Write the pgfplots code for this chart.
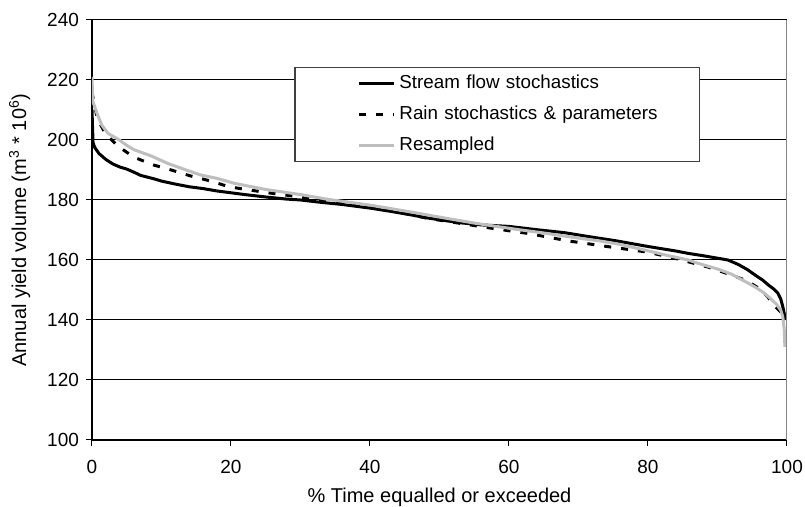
\documentclass[border=0pt]{standalone}
\usepackage{pgfplots}
\pgfplotsset{compat=1.18}
\usepackage{fontspec}
\setmainfont{Liberation Sans}
\definecolor{resgray}{RGB}{190,190,190}
\begin{document}
\begin{tikzpicture}
\begin{axis}[
  scale only axis,
  width=347.5pt, height=210pt,
  xmin=0, xmax=100, ymin=100, ymax=240,
  xtick={0,20,...,100}, ytick={100,120,...,240},
  axis x line*=bottom, axis y line*=left,
  axis line style={black, line width=0.6pt},
  tick align=outside, major tick length=3pt,
  tick style={black, line width=0.5pt},
  ymajorgrids, grid style={black, line width=0.5pt},
  /pgf/number format/assume math mode=true,
  ticklabel style={font=\fontsize{9.5}{11}\selectfont},
  xticklabel style={yshift=-3.7pt, inner xsep=0pt},
  label style={font=\fontsize{9.5}{11}\selectfont},
  xlabel={\% Time equalled or exceeded},
  ylabel={Annual yield volume (m\textsuperscript{3} * 10\textsuperscript{6})},
  every axis x label/.style={at={(axis description cs:0.5,-0.15)}, anchor=base},
  every axis y label/.style={at={(axis description cs:-0.104,0.5)}, rotate=90, anchor=center},
  legend cell align=left,
  legend image code/.code={\path[draw=none,fill=none] (-32pt,0pt) -- (0pt,0pt); \draw[#1] (0pt,0pt) -- (17.5pt,0pt);},
  legend style={at={(0.291,0.889)}, anchor=north west, draw=black!75, line width=0.7pt,
    inner xsep=0pt, inner ysep=3.5pt, row sep=6.5pt,
    font=\fontsize{9.4}{11}\selectfont,
    nodes={inner xsep=2pt, inner ysep=0pt, text height=7pt, text depth=2pt, text width=148pt, anchor=west}},
]
\addplot[black, line width=1.5pt, line join=round] coordinates {
(0,210) (0.15,199) (0.4,197.5) (1,195.5) (2,193.5) (3,192) (4,191) (5,190.3) (6,189.3) (7,188.2) (8,187.6) (9,187) (10,186.3) (12,185.3) (14,184.4) (16,183.8) (18,183) (20,182.4) (22,181.8) (25,181) (28,180.3) (30,180) (33,179.2) (36,178.5) (40,177.3) (43,176.2) (46,175) (48,174.1) (50,173.4) (53,172.4) (56,171.7) (60,171.2) (64,170.1) (68,169.1) (72,167.6) (75.4,166.4) (80,164.5) (84,163) (85.8,162.2) (88,161.4) (90,160.6) (91.5,160) (93,158.5) (94.3,156.8) (95.4,155) (96.5,153.3) (97.3,151.7) (98.1,150.3) (98.7,148.9) (99.1,147) (99.4,144.4) (99.8,140)
};
\addlegendentry{Stream flow stochastics}
\addplot[black, line width=1.5pt, dash pattern=on 3.5pt off 5pt] coordinates {
(0,216) (0.3,212) (0.8,207) (1.9,202.2) (3.8,197.8) (6.1,194.2) (8.8,191.7) (11.4,190) (14.2,188) (17.1,186.3) (19.7,184.4) (25,182.5) (30,181) (35,179.3) (40,177.8) (44,176) (48.3,173.9) (54.4,171.7) (58,170.4) (62.6,168.9) (68.7,166.3) (74.4,164.4) (80,162.6) (84,160.5) (88.7,157.6) (91,155.8) (94.2,153.1) (96,150.5) (97.2,147.8) (98.2,144.7) (99.4,142) (100,140)
};
\addlegendentry{Rain stochastics \& parameters}
\addplot[resgray, line width=1.5pt, line join=round] coordinates {
(0,221) (0.1,213) (0.7,209) (1.4,205) (2.3,202.2) (3.8,200.2) (5,198.2) (6.1,196.7) (8.5,194.7) (10.9,192.2) (13.3,190.2) (15.7,188.3) (18,187.2) (20.4,185.6) (25,183.5) (30,181.8) (34,180.2) (40,178.3) (46.9,175.6) (50,174.3) (55,172.3) (61.1,170.2) (65,169) (70,167.3) (72.9,166.4) (76,165.2) (80.1,163) (83,161.4) (85.8,160) (87.2,158.9) (90,157) (92,155.3) (94.4,152.3) (95.4,151) (96.6,149.2) (97.7,147) (98.5,145.2) (99.1,143.3) (99.4,141) (99.6,137) (99.7,131)
};
\addlegendentry{Resampled}
\draw[resgray!70!black, line width=0.6pt] (rel axis cs:1,0) -- (rel axis cs:1,1);
\coordinate (A) at (rel axis cs:0,0);
\coordinate (B) at (rel axis cs:1,1);
\end{axis}
\pgfresetboundingbox
\path (A) ++(-46pt,-33.5pt) coordinate (P);
\path (B) ++(9pt,10pt) coordinate (Q);
\path (P) rectangle (Q);
\end{tikzpicture}
\end{document}
